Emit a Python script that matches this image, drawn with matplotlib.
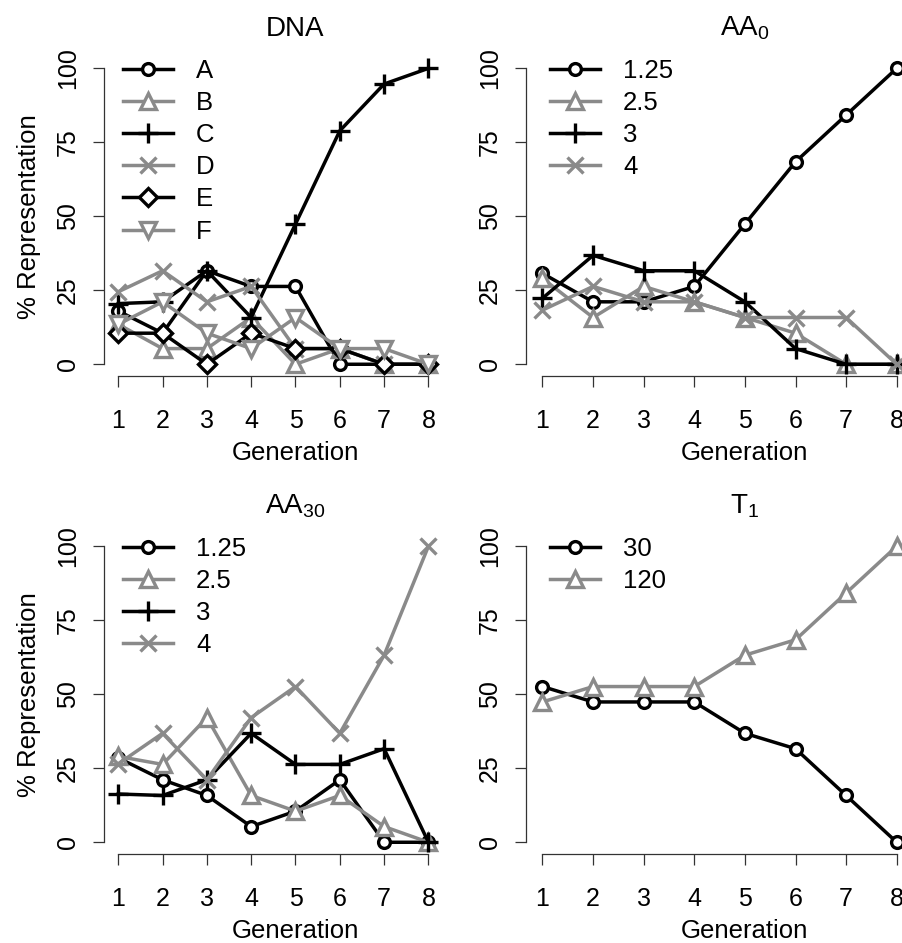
############################################################################
#Imports#
############################################################################
import matplotlib
matplotlib.use("Agg")
import matplotlib.pyplot as plt

plt.rcParams['font.family'] = ['Liberation Sans', 'DejaVu Sans']
plt.rcParams['mathtext.fontset'] = 'custom'
plt.rcParams['mathtext.rm'] = 'Liberation Sans'

############################################################################
#Data (% representation per generation)#
############################################################################
generations = [1, 2, 3, 4, 5, 6, 7, 8]
y_ticks = [0, 25, 50, 75, 100]

dna_labels = ["A", "B", "C", "D", "E", "F"]
dna_a = [18.0, 10.5, 31.6, 26.3, 26.3, 0, 0, 0]
dna_b = [13.5, 5.3, 5.3, 15.8, 0, 5.3, 0, 0]
dna_c = [20.5, 21.1, 31.6, 15.8, 47.4, 78.9, 94.7, 100]
dna_d = [24.5, 31.6, 21.1, 26.3, 5.3, 5.3, 0, 0]
dna_e = [10.5, 10.5, 0, 10.5, 5.3, 5.3, 0, 0]
dna_f = [13.5, 21.1, 10.5, 5.3, 15.8, 5.3, 5.3, 0]

aa_labels = ["1.25", "2.5", "3", "4"]
aa0_125 = [30.7, 21.1, 21.1, 26.3, 47.4, 68.4, 84.2, 100]
aa0_25 = [29.0, 15.8, 26.3, 21.1, 15.8, 10.5, 0, 0]
aa0_3 = [22.3, 36.8, 31.6, 31.6, 21.1, 5.3, 0, 0]
aa0_4 = [18.3, 26.3, 21.1, 21.1, 15.8, 15.8, 15.8, 0]

aa30_125 = [28.5, 21.1, 15.8, 5.3, 10.5, 21.1, 0, 0]
aa30_25 = [29.0, 26.3, 42.1, 15.8, 10.5, 15.8, 5.3, 0]
aa30_3 = [16.3, 15.8, 21.1, 36.8, 26.3, 26.3, 31.6, 0]
aa30_4 = [26.5, 36.8, 21.1, 42.1, 52.6, 36.8, 63.2, 100]

t1_labels = ["30", "120"]
t1_30 = [52.6, 47.4, 47.4, 47.4, 36.8, 31.6, 15.8, 0]
t1_120 = [47.4, 52.6, 52.6, 52.6, 63.2, 68.4, 84.2, 100]

############################################################################
#Styles#
############################################################################
grey = "#8a8a8a"
styles = [
    dict(color="black", marker="o", ms=8.5, mfc="white"),
    dict(color=grey, marker="^", ms=11, mfc="white"),
    dict(color="black", marker="+", ms=15),
    dict(color=grey, marker="x", ms=12),
    dict(color="black", marker="D", ms=9, mfc="white"),
    dict(color=grey, marker="v", ms=11, mfc="white"),
]

W, H = 902, 943

def pos(l, r, t, b):
    return [l / W, 1 - b / H, (r - l) / W, (b - t) / H]

def panel(ax, title, series, labels, leg_x, leg_y, ylabel):
    for i, (vals, lab) in enumerate(zip(series, labels)):
        ax.plot(generations, vals, label=lab, lw=2.5, mew=2.4, zorder=3 + i, **styles[i])
    ax.set_xlim(0.68, 9.32)
    ax.set_ylim(-4, 104)
    ax.spines["top"].set_visible(False)
    ax.spines["right"].set_visible(False)
    ax.spines["left"].set_bounds(0, 100)
    ax.spines["bottom"].set_bounds(1, 8)
    for s in ["left", "bottom"]:
        ax.spines[s].set_linewidth(0.9)
        ax.spines[s].set_color("#333333")
    ax.set_xticks(generations)
    ax.set_yticks(y_ticks)
    ax.tick_params(direction="out", length=8, width=0.9, color="#333333", labelsize=18)
    ax.tick_params(axis="x", pad=16)
    ax.tick_params(axis="y", pad=9.5, labelrotation=90)
    plt.setp(ax.get_yticklabels(), va="center")
    ax.set_title(title, fontsize=20, pad=15)
    ax.set_xlabel("Generation", fontsize=18.5, labelpad=5.5)
    if ylabel:
        ax.set_ylabel("% Representation", fontsize=18.5, labelpad=11)
    ax.patch.set_visible(False)
    ax.legend(loc="upper left", bbox_to_anchor=(leg_x / W, 1 - leg_y / H),
              bbox_transform=fig.transFigure, frameon=False, fontsize=18.5,
              handlelength=1.95, handletextpad=0.9, labelspacing=0.32,
              borderpad=0, borderaxespad=0, numpoints=1)

############################################################################
#Figure#
############################################################################
fig = plt.figure(figsize=(W / 100, H / 100), dpi=100)

ax1 = fig.add_axes(pos(104.1, 486.9, 56.5, 376.1))
panel(ax1, "DNA", [dna_a, dna_b, dna_c, dna_d, dna_e, dna_f], dna_labels, 123, 58.5, True)

ax2 = fig.add_axes(pos(526.3, 963.5, 56.5, 376.1))
panel(ax2, r"AA$_\mathregular{0}$", [aa0_125, aa0_25, aa0_3, aa0_4], aa_labels, 550, 58.5, False)

ax3 = fig.add_axes(pos(104.1, 486.9, 534.4, 854.1))
panel(ax3, r"AA$_\mathregular{30}$", [aa30_125, aa30_25, aa30_3, aa30_4], aa_labels, 123, 536.5, True)

ax4 = fig.add_axes(pos(526.3, 963.5, 534.4, 854.1))
panel(ax4, r"T$_\mathregular{1}$", [t1_30, t1_120], t1_labels, 550, 536.5, False)

fig.savefig("out.png", dpi=100)
